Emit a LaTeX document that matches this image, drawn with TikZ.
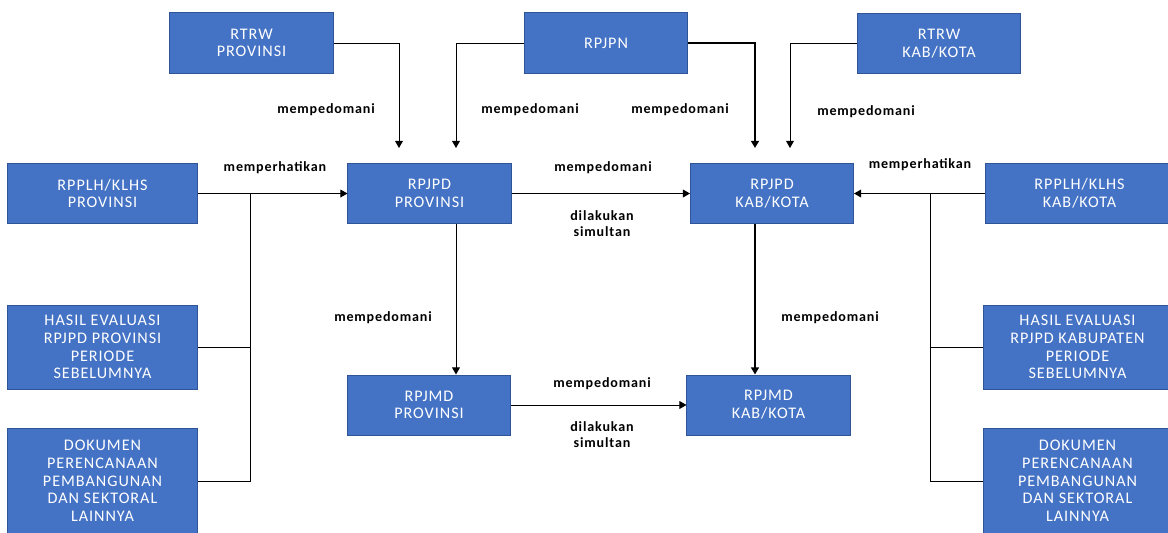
\documentclass[tikz,border=0pt]{standalone}
\usepackage{fontspec}
\setmainfont{Carlito}
\newfontfamily\boxfont{Carlito}[LetterSpace=6]
\newfontfamily\lblfont{Carlito}[LetterSpace=6]
\usetikzlibrary{arrows.meta}
\definecolor{boxblue}{HTML}{4472C4}
\definecolor{boxline}{HTML}{2F5597}
\begin{document}
\begin{tikzpicture}[x=0.025cm, y=-0.025cm, line width=0.7pt,
doc node/.style={rectangle,draw=boxline,fill=boxblue,text=white,font=\boxfont\fontsize{11.5}{12.6}\selectfont,align=center,minimum width=4.075cm,minimum height=1.5cm,inner sep=0pt},
side node/.style={doc node,minimum width=4.725cm},
lbl/.style={font=\lblfont\bfseries\fontsize{10}{11.5}\selectfont,align=center,inner sep=0pt},
arr/.style={-{Triangle[length=5pt,width=5.5pt]}},
heavy/.style={line width=1.3pt}]
\clip (0,0) rectangle (1168,532);
\fill[white] (0,0) rectangle (1168,532);
\begin{scope}
\node[doc node] (rtrwprov) at (251.5,43) {RTRW\\PROVINSI};
\node[doc node] (rpjpn) at (606,43) {RPJPN};
\node[doc node] (rtrwkab) at (939,43.5) {RTRW\\KAB/KOTA};
\node[side node] (rpplhprov) at (102.5,193.5) {RPPLH/KLHS\\PROVINSI};
\node[doc node] (rpjpdprov) at (429.5,193.5) {RPJPD\\PROVINSI};
\node[doc node] (rpjpdkab) at (772,193.5) {RPJPD\\KAB/KOTA};
\node[side node] (rpplhkab) at (1079.5,193.5) {RPPLH/KLHS\\KAB/KOTA};
\node[side node,minimum height=2.1cm] (hasilprov) at (102.5,347) {HASIL EVALUASI\\RPJPD PROVINSI\\PERIODE\\SEBELUMNYA};
\node[side node,minimum height=2.65cm] (dokprov) at (102.5,481) {DOKUMEN\\PERENCANAAN\\PEMBANGUNAN\\DAN SEKTORAL\\LAINNYA};
\node[doc node] (rpjmdprov) at (429,405) {RPJMD\\PROVINSI};
\node[doc node] (rpjmdkab) at (768.5,405) {RPJMD\\KAB/KOTA};
\node[side node,minimum height=2.1cm] (hasilkab) at (1077.5,347) {HASIL EVALUASI\\RPJPD KABUPATEN\\PERIODE\\SEBELUMNYA};
\node[side node,minimum height=2.65cm] (dokkab) at (1077.5,481) {DOKUMEN\\PERENCANAAN\\PEMBANGUNAN\\DAN SEKTORAL\\LAINNYA};
%\node[doc node] () at (,) {};
\end{scope}
\begin{scope}
\coordinate (inA) at (399,148);
\coordinate (inB) at (456,148);
\coordinate (inC) at (755,148);
\coordinate (inD) at (790,148);
\coordinate (busL) at (250,193.5);
\coordinate (busR) at (930,193.5);
\draw[arr] (rtrwprov.east) -| (inA);
\draw[arr] (rpjpn.west) -| (inB);
\draw[arr,heavy] (rpjpn.east) -| (inC);
\draw[arr] (rtrwkab.west) -| (inD);
\draw[arr] (rpplhprov.east) -- (rpjpdprov.west);
\draw (busL) |- (hasilprov.east);
\draw (busL) |- (dokprov.east);
\draw[arr] (rpjpdprov.east) -- (rpjpdkab.west);
\draw[arr] (rpplhkab.west) -- (rpjpdkab.east);
\draw (busR) |- (hasilkab.west);
\draw (busR) |- (dokkab.west);
\draw[arr] (rpjpdprov.south -| inB) -- (rpjmdprov.north -| inB);
\draw[arr,heavy] (rpjpdkab.south -| inC) -- (rpjmdkab.north -| inC);
\draw[arr] (rpjmdprov.east) -- (rpjmdkab.west);
%\draw[arr] () -- ();
\end{scope}
\begin{scope}[every node/.style={lbl}]
\node (lblA) at (326,110) {mempedomani};
\node (lblB) at (530,110) {mempedomani};
\node (lblC) at (680,110) {mempedomani};
\node (lblD) at (866,112) {mempedomani};
\node (lblE) at (275,168) {memperhatikan};
\node (lblF) at (603,168) {mempedomani};
\node (lblG) at (602,224) {dilakukan\\simultan};
\node (lblH) at (920,165) {memperhatikan};
\node (lblI) at (383,318) {mempedomani};
\node (lblJ) at (830,318) {mempedomani};
\node (lblK) at (602,384) {mempedomani};
\node (lblL) at (602,435) {dilakukan\\simultan};
\end{scope}
\end{tikzpicture}
\end{document}
